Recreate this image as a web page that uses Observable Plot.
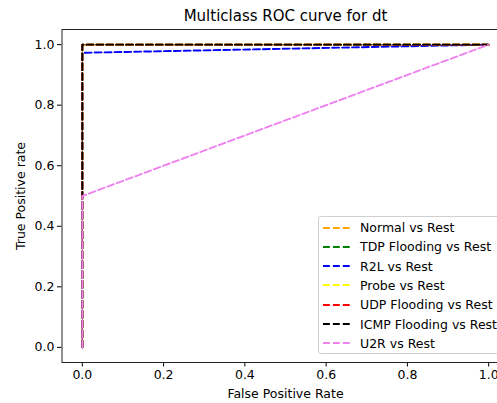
<!DOCTYPE html>
<html>
<head>
<meta charset="utf-8">
<script src="https://cdn.jsdelivr.net/npm/d3@7"></script>
<script src="https://cdn.jsdelivr.net/npm/@observablehq/plot@0.6"></script>
<style>
  html, body { margin: 0; padding: 0; background: #fff; overflow: hidden; }
  #wrap { position: relative; width: 497px; height: 403px; overflow: hidden; font-family: "DejaVu Sans", sans-serif; }
  #legend { position: absolute; left: 318px; top: 216px; width: 200px; height: 138px; border: 1px solid #d0d0d0; border-radius: 3px; background: rgba(255,255,255,0.85); box-sizing: border-box; }
  .row { position: absolute; left: 4px; height: 19px; display: flex; align-items: center; font-size: 12.5px; color: #000; white-space: nowrap; }
  .row svg { margin-right: 10px; }
</style>
</head>
<body>
<div id="wrap"></div>
<script>
const classes = ["Normal vs Rest", "TDP Flooding vs Rest", "R2L vs Rest", "Probe vs Rest", "UDP Flooding vs Rest", "ICMP Flooding vs Rest", "U2R vs Rest"];
const colors = ["orange", "green", "blue", "yellow", "red", "black", "violet"];
const fprNormal = [0, 0, 1], tprNormal = [0, 1, 1];
const fprTDP = [0, 0, 1], tprTDP = [0, 1, 1];
const fprR2L = [0, 0, 1], tprR2L = [0, 0.973, 1];
const fprProbe = [0, 0, 1], tprProbe = [0, 1, 1];
const fprUDP = [0, 0, 1], tprUDP = [0, 1, 1];
const fprICMP = [0, 0, 1], tprICMP = [0, 1, 1];
const fprU2R = [0, 0, 1], tprU2R = [0, 0.5, 1];
const xTicks = [0, 0.2, 0.4, 0.6, 0.8, 1.0];
const yTicks = [0, 0.2, 0.4, 0.6, 0.8, 1.0];
const titleText = "Multiclass ROC curve for dt";

const fprs = [fprNormal, fprTDP, fprR2L, fprProbe, fprUDP, fprICMP, fprU2R];
const tprs = [tprNormal, tprTDP, tprR2L, tprProbe, tprUDP, tprICMP, tprU2R];
const rows = [];
classes.forEach((c, i) => fprs[i].forEach((f, j) => rows.push({cls: c, fpr: f, tpr: tprs[i][j]})));

const dash = "6.9,3";
const chart = Plot.plot({
  width: 497,
  height: 403,
  marginLeft: 61.5,
  marginRight: -11.5,
  marginTop: 29,
  marginBottom: 41,
  style: {fontFamily: "DejaVu Sans, sans-serif", fontSize: "12.5px", color: "#000", background: "#fff", overflow: "visible"},
  x: {domain: [-0.05, 1.05]},
  y: {domain: [-0.05, 1.05]},
  color: {domain: classes, range: colors},
  marks: [
    Plot.axisX({ticks: xTicks, tickFormat: d3.format(".1f"), tickSize: 4.5, tickPadding: 3, label: "False Positive Rate", labelAnchor: "center", labelArrow: "none", labelOffset: 35, fontSize: 12.5}),
    Plot.axisY({ticks: yTicks, tickFormat: d3.format(".1f"), tickSize: 4.5, tickPadding: 3, label: "True Positive rate", labelAnchor: "center", labelArrow: "none", labelOffset: 46, fontSize: 12.5}),
    ...classes.map(c => Plot.line(rows.filter(r => r.cls === c), {x: "fpr", y: "tpr", stroke: "cls", strokeWidth: 1.9, strokeDasharray: dash})),
    Plot.frame({stroke: "#222", strokeWidth: 1}),
    Plot.text([titleText], {x: 0.5, frameAnchor: "top", dy: -13, text: d => d, fontSize: 15, lineAnchor: "middle"})
  ]
});
const wrap = document.getElementById("wrap");
wrap.appendChild(chart);

const legend = document.createElement("div");
legend.id = "legend";
classes.forEach((c, i) => {
  const row = document.createElement("div");
  row.className = "row";
  row.style.top = (1 + i * 19.3) + "px";
  row.innerHTML = `<svg width="27" height="4"><line x1="0" y1="2" x2="27" y2="2" stroke="${colors[i]}" stroke-width="1.9" stroke-dasharray="${dash}"/></svg><span>${c}</span>`;
  legend.appendChild(row);
});
wrap.appendChild(legend);
</script>
</body>
</html>
